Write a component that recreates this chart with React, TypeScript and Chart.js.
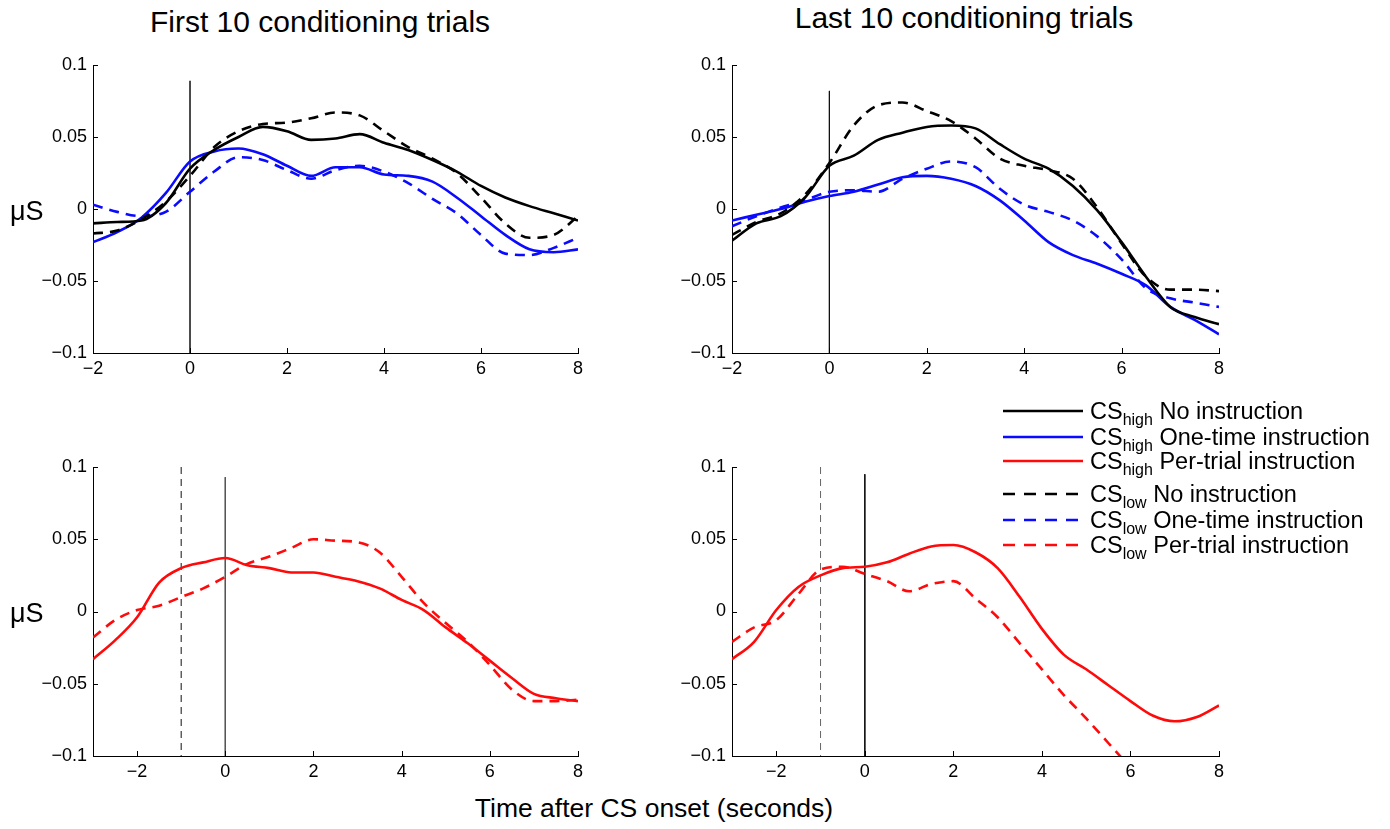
import React, { useEffect, useRef } from 'react';
import { Chart, registerables } from 'chart.js';

Chart.register(...registerables);

const FONT = '"Liberation Sans", Arial, Helvetica, sans-serif';

// ---------- data ----------
const topX = [-2, -1.5, -1, -0.5, 0, 0.5, 1, 1.5, 2, 2.5, 3, 3.5, 4, 4.5, 5, 5.5, 6, 6.5, 7, 7.5, 8];
const bottomX = [-3, -2.5, -2, -1.5, -1, -0.5, 0, 0.5, 1, 1.5, 2, 2.5, 3, 3.5, 4, 4.5, 5, 5.5, 6, 6.5, 7, 7.5, 8];

// First 10 conditioning trials
const firstHighNo = [-0.010, -0.009, -0.008, 0.004, 0.028, 0.041, 0.050, 0.057, 0.054, 0.048, 0.049, 0.052, 0.046, 0.041, 0.034, 0.026, 0.016, 0.008, 0.002, -0.003, -0.008];
const firstLowNo = [-0.017, -0.015, -0.007, 0.005, 0.023, 0.043, 0.054, 0.059, 0.060, 0.063, 0.067, 0.065, 0.054, 0.043, 0.035, 0.025, 0.008, -0.010, -0.020, -0.018, -0.005];
const firstHighOne = [-0.023, -0.016, -0.006, 0.011, 0.033, 0.040, 0.042, 0.038, 0.030, 0.023, 0.029, 0.029, 0.024, 0.023, 0.019, 0.008, -0.005, -0.018, -0.028, -0.030, -0.028];
const firstLowOne = [0.003, -0.002, -0.005, -0.002, 0.012, 0.026, 0.036, 0.034, 0.027, 0.021, 0.027, 0.030, 0.026, 0.018, 0.007, -0.003, -0.018, -0.031, -0.032, -0.027, -0.020];
const firstHighPer = [-0.033, -0.020, -0.004, 0.020, 0.030, 0.034, 0.037, 0.032, 0.030, 0.027, 0.027, 0.024, 0.021, 0.016, 0.008, 0.001, -0.011, -0.022, -0.034, -0.046, -0.057, -0.060, -0.062];
const firstLowPer = [-0.018, -0.006, 0.001, 0.004, 0.010, 0.016, 0.024, 0.033, 0.038, 0.044, 0.050, 0.049, 0.048, 0.041, 0.024, 0.006, -0.008, -0.021, -0.037, -0.054, -0.062, -0.062, -0.061];

// Last 10 conditioning trials
const lastHighNo = [-0.022, -0.010, -0.005, 0.008, 0.030, 0.037, 0.048, 0.053, 0.057, 0.058, 0.056, 0.045, 0.035, 0.028, 0.016, -0.001, -0.023, -0.047, -0.068, -0.075, -0.080];
const lastLowNo = [-0.018, -0.009, -0.003, 0.010, 0.032, 0.058, 0.072, 0.074, 0.068, 0.061, 0.049, 0.035, 0.030, 0.027, 0.021, 0.001, -0.024, -0.047, -0.056, -0.056, -0.057];
const lastHighOne = [-0.008, -0.004, 0.000, 0.005, 0.009, 0.012, 0.017, 0.022, 0.023, 0.021, 0.016, 0.006, -0.008, -0.023, -0.032, -0.038, -0.045, -0.053, -0.068, -0.077, -0.087];
const lastLowOne = [-0.012, -0.005, 0.001, 0.006, 0.012, 0.013, 0.012, 0.021, 0.028, 0.033, 0.029, 0.014, 0.003, -0.002, -0.008, -0.019, -0.035, -0.055, -0.062, -0.065, -0.068];
const lastHighPer = [-0.033, -0.021, 0.001, 0.017, 0.025, 0.030, 0.031, 0.034, 0.040, 0.045, 0.046, 0.041, 0.030, 0.010, -0.012, -0.030, -0.040, -0.051, -0.062, -0.072, -0.076, -0.073, -0.065];
const lastLowPer = [-0.021, -0.011, -0.006, 0.012, 0.029, 0.031, 0.026, 0.021, 0.014, 0.019, 0.021, 0.009, -0.004, -0.022, -0.040, -0.058, -0.074, -0.091, -0.108, null, null, null, null];

const yTickValues = [-0.1, -0.05, 0, 0.05, 0.1];
const xTickValues = [-2, 0, 2, 4, 6, 8];
const onsetLineTop = [0.089, 0.082, 0.093, 0.095]; // CS onset marker (x = 0), per panel
const cueTime = -1; // instruction cue marker in per-trial panels

const panelTitles = ['First 10 conditioning trials', 'Last 10 conditioning trials'];
const yLabel = 'μS';
const xLabel = 'Time after CS onset (seconds)';
const legendSubs = ['high', 'high', 'high', 'low', 'low', 'low'];
const legendNames = ['No instruction', 'One-time instruction', 'Per-trial instruction', 'No instruction', 'One-time instruction', 'Per-trial instruction'];

// ---------- styles ----------
const BLACK = '#000000';
const BLUE = '#0a0aff';
const RED = '#ff0a0a';
const legendColors = [BLACK, BLUE, RED, BLACK, BLUE, RED];
const legendDashed = [false, false, false, true, true, true];
const legendRowsY = [411, 437, 461, 494, 520, 545];
const DASH = [10, 7];

const fmt = (v: number) => {
  if (Math.abs(v) < 1e-9) return '0';
  const s = String(Math.round(v * 1000) / 1000);
  return v < 0 ? '\u2212' + s.slice(1) : s;
};

function series(xs: number[], ys: (number | null)[], color: string, dashed: boolean) {
  return {
    data: xs.map((x, i) => ({ x, y: ys[i] })),
    borderColor: color,
    borderWidth: 2.6,
    borderDash: dashed ? DASH : [],
    pointRadius: 0,
    fill: false,
    spanGaps: false,
    cubicInterpolationMode: 'monotone',
    order: 1,
  };
}

function marker(x: number, yTop: number, dashed: boolean, color: string) {
  return {
    data: [{ x, y: yTop }, { x, y: -0.1 }],
    borderColor: color,
    borderWidth: 1,
    borderDash: dashed ? [7, 5] : [],
    pointRadius: 0,
    fill: false,
    order: 5,
  };
}

const inwardTicks = {
  id: 'inwardTicks',
  afterDatasetsDraw(chart: any) {
    const { ctx, chartArea: a, scales } = chart;
    const x = scales.x;
    const y = scales.y;
    ctx.save();
    ctx.strokeStyle = '#000';
    ctx.lineWidth = 1;
    ctx.beginPath();
    for (const t of y.ticks) {
      const py = Math.round(y.getPixelForValue(t.value)) + 0.5;
      ctx.moveTo(a.left, py);
      ctx.lineTo(a.left + 5, py);
    }
    for (const t of x.ticks) {
      const px = Math.round(x.getPixelForValue(t.value)) + 0.5;
      ctx.moveTo(px, a.bottom);
      ctx.lineTo(px, a.bottom - 5);
    }
    ctx.stroke();
    ctx.restore();
  },
};

function makeLegendPlugin(offsetX: number, offsetY: number) {
  return {
    id: 'legendLines',
    afterDraw(chart: any) {
      const ctx = chart.ctx;
      ctx.save();
      ctx.lineWidth = 2.6;
      legendRowsY.forEach((ry, i) => {
        ctx.strokeStyle = legendColors[i];
        ctx.setLineDash(legendDashed[i] ? [12, 9] : []);
        ctx.beginPath();
        ctx.moveTo(1003 - offsetX, ry - offsetY);
        ctx.lineTo(1083 - offsetX, ry - offsetY);
        ctx.stroke();
      });
      ctx.restore();
    },
  };
}

type PanelProps = {
  left: number;
  top: number;
  width: number;
  height: number;
  yAxisWidth: number;
  pad: { top: number; right: number };
  xMin: number;
  datasets: any[];
  extraPlugins?: any[];
};

function Panel(p: PanelProps) {
  const ref = useRef<HTMLCanvasElement>(null);
  useEffect(() => {
    if (!ref.current) return;
    const tickFont = { family: FONT, size: 18 };
    const chart = new Chart(ref.current, {
      type: 'line',
      data: { datasets: p.datasets },
      options: {
        animation: false,
        responsive: false,
        devicePixelRatio: 1,
        events: [],
        layout: { padding: { left: 0, top: p.pad.top, right: p.pad.right, bottom: 0 } },
        plugins: { legend: { display: false }, tooltip: { enabled: false } },
        scales: {
          x: {
            type: 'linear',
            min: p.xMin,
            max: 8,
            afterBuildTicks: (s: any) => {
              s.ticks = xTickValues.map((v) => ({ value: v }));
            },
            afterFit: (s: any) => {
              s.height = 37;
            },
            grid: { display: false, drawTicks: false },
            border: { display: true, color: '#000', width: 1 },
            ticks: {
              font: tickFont,
              color: '#000',
              padding: 5,
              maxRotation: 0,
              autoSkip: false,
              callback: (v: any) => fmt(Number(v)),
            },
          },
          y: {
            type: 'linear',
            min: -0.1,
            max: 0.1,
            afterBuildTicks: (s: any) => {
              s.ticks = yTickValues.map((v) => ({ value: v }));
            },
            afterFit: (s: any) => {
              s.width = p.yAxisWidth;
            },
            grid: { display: false, drawTicks: false },
            border: { display: true, color: '#000', width: 1 },
            ticks: {
              font: tickFont,
              color: '#000',
              padding: 6,
              autoSkip: false,
              callback: (v: any) => fmt(Number(v)),
            },
          },
        },
      } as any,
      plugins: [inwardTicks, ...(p.extraPlugins || [])],
    });
    return () => chart.destroy();
  }, []);
  return (
    <canvas
      ref={ref}
      width={p.width}
      height={p.height}
      style={{ position: 'absolute', left: p.left, top: p.top, width: p.width, height: p.height }}
    />
  );
}

const textBase: React.CSSProperties = {
  position: 'absolute',
  fontFamily: FONT,
  color: '#000',
  lineHeight: 1,
  whiteSpace: 'nowrap',
  margin: 0,
};

export default function App() {
  const tlSets = [
    series(topX, firstHighNo, BLACK, false),
    series(topX, firstLowNo, BLACK, true),
    series(topX, firstHighOne, BLUE, false),
    series(topX, firstLowOne, BLUE, true),
    marker(0, onsetLineTop[0], false, '#333333'),
  ];
  const trSets = [
    series(topX, lastHighNo, BLACK, false),
    series(topX, lastLowNo, BLACK, true),
    series(topX, lastHighOne, BLUE, false),
    series(topX, lastLowOne, BLUE, true),
    marker(0, onsetLineTop[1], false, '#111111'),
  ];
  const blSets = [
    series(bottomX, firstHighPer, RED, false),
    series(bottomX, firstLowPer, RED, true),
    marker(0, onsetLineTop[2], false, '#555555'),
    marker(cueTime, 0.1, true, '#111111'),
  ];
  const brSets = [
    series(bottomX, lastHighPer, RED, false),
    series(bottomX, lastLowPer, RED, true),
    marker(0, onsetLineTop[3], false, '#111111'),
    marker(cueTime, 0.1, true, '#666666'),
  ];

  return (
    <div style={{ position: 'absolute', left: 0, top: 0, width: 1390, height: 829, background: '#fff', overflow: 'hidden' }}>
      <Panel left={0} top={40} width={640} height={350} yAxisWidth={93} pad={{ top: 25, right: 62 }} xMin={-2} datasets={tlSets} />
      <Panel left={640} top={40} width={640} height={350} yAxisWidth={92} pad={{ top: 25, right: 61 }} xMin={-2} datasets={trSets} />
      <Panel left={0} top={430} width={640} height={363} yAxisWidth={93} pad={{ top: 37, right: 62 }} xMin={-3} datasets={blSets} />
      <Panel
        left={640}
        top={390}
        width={750}
        height={403}
        yAxisWidth={92}
        pad={{ top: 77, right: 171 }}
        xMin={-3}
        datasets={brSets}
        extraPlugins={[makeLegendPlugin(640, 390)]}
      />

      <div style={{ ...textBase, fontSize: 30, left: 320, top: 7, transform: 'translateX(-50%)' }}>{panelTitles[0]}</div>
      <div style={{ ...textBase, fontSize: 30, left: 964, top: 3, transform: 'translateX(-50%)' }}>{panelTitles[1]}</div>
      <div style={{ ...textBase, fontSize: 27, left: 10, top: 198 }}>{yLabel}</div>
      <div style={{ ...textBase, fontSize: 27, left: 10, top: 600 }}>{yLabel}</div>
      <div style={{ ...textBase, fontSize: 26.5, left: 654, top: 795, transform: 'translateX(-50%)' }}>{xLabel}</div>

      {legendRowsY.map((ry, i) => (
        <div key={i} style={{ ...textBase, fontSize: 23.5, left: 1090, top: ry - 11 }}>
          CS
          <span style={{ fontSize: 16, position: 'relative', top: 6 }}>{legendSubs[i]}</span>
          {' ' + legendNames[i]}
        </div>
      ))}
    </div>
  );
}
